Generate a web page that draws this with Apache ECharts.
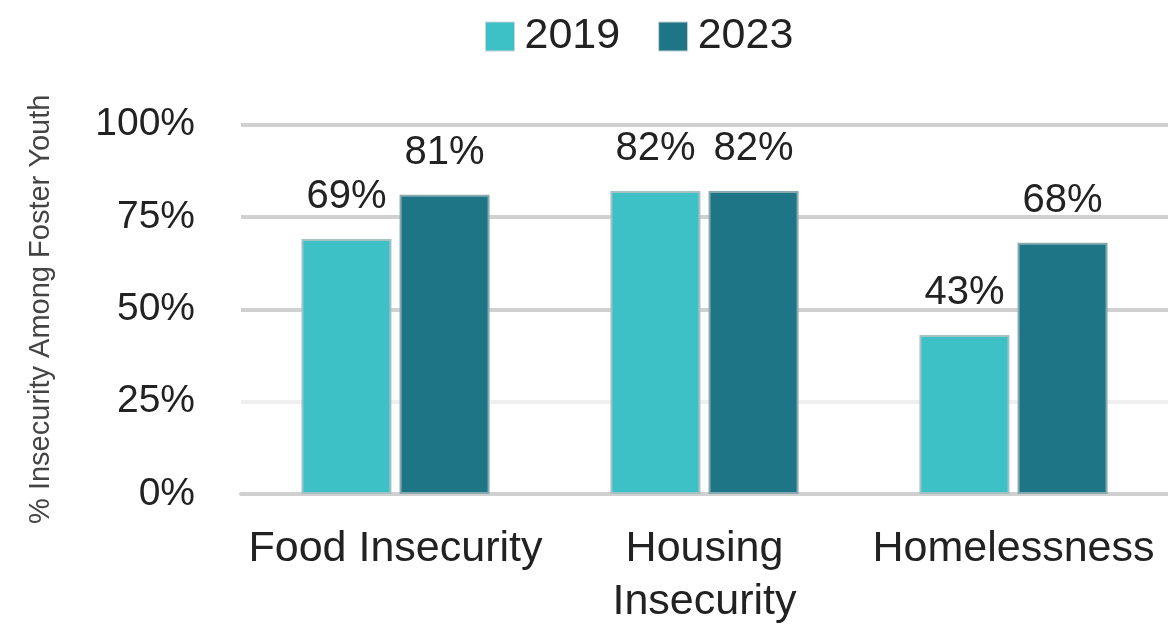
<!DOCTYPE html>
<html>
<head>
<meta charset="utf-8">
<script src="https://cdn.jsdelivr.net/npm/echarts@6/dist/echarts.min.js"></script>
<style>html,body{margin:0;padding:0;background:#fff}#c{width:1168px;height:629px}</style>
</head>
<body>
<div id="c"></div>
<script>
const categories = ['Food Insecurity', 'Housing\nInsecurity', 'Homelessness'];
const values2019 = [69, 82, 43];
const values2023 = [81, 82, 68];
const yTicks = [0, 25, 50, 75, 100];

const chart = echarts.init(document.getElementById('c'), null, {renderer: 'canvas'});
const font = '"Liberation Sans", Arial, sans-serif';
const labelCfg = {
  show: true, position: 'top', distance: 22,
  formatter: p => p.value + '%',
  fontFamily: font, fontSize: 40, color: '#222'
};
chart.setOption({
  animation: false,
  legend: {
    top: 10, left: 480,
    icon: 'rect',
    itemWidth: 29, itemHeight: 29, itemGap: 38,
    itemStyle: {borderColor: '#c8d4d6', borderWidth: 1},
    textStyle: {fontFamily: font, fontSize: 43, color: '#222', padding: [0, 0, 0, 5]},
    data: ['2019', '2023']
  },
  grid: {left: 241, top: 124.5, bottom: 131.5, width: 932, containLabel: false},
  xAxis: {
    type: 'category', data: categories,
    axisLine: {lineStyle: {color: '#d0d0d0', width: 4}},
    axisTick: {show: false},
    axisLabel: {fontFamily: font, fontSize: 43, color: '#222', margin: 29, lineHeight: 53, interval: 0}
  },
  yAxis: {
    type: 'value', min: yTicks[0], max: yTicks[yTicks.length - 1], interval: 25,
    name: '% Insecurity Among Foster Youth', nameLocation: 'middle', nameGap: 186, nameRotate: 90,
    nameTextStyle: {fontFamily: font, fontSize: 29, color: '#444'},
    axisLine: {show: false}, axisTick: {show: false},
    axisLabel: {formatter: v => v + '%', fontFamily: font, fontSize: 39, color: '#222', margin: 46},
    splitLine: {lineStyle: {color: ['#d0d0d0', '#efefef', '#d0d0d0', '#d0d0d0', '#d0d0d0'], width: 4}}
  },
  series: [
    {name: '2019', type: 'bar', data: values2019, barWidth: 90, barGap: '9%',
     itemStyle: {color: '#3dc1c6', borderColor: '#a2c2c4', borderWidth: 2},
     label: labelCfg},
    {name: '2023', type: 'bar', data: values2023, barWidth: 90,
     itemStyle: {color: '#1e7585', borderColor: '#86aab0', borderWidth: 2},
     label: labelCfg}
  ]
});
</script>
</body>
</html>
